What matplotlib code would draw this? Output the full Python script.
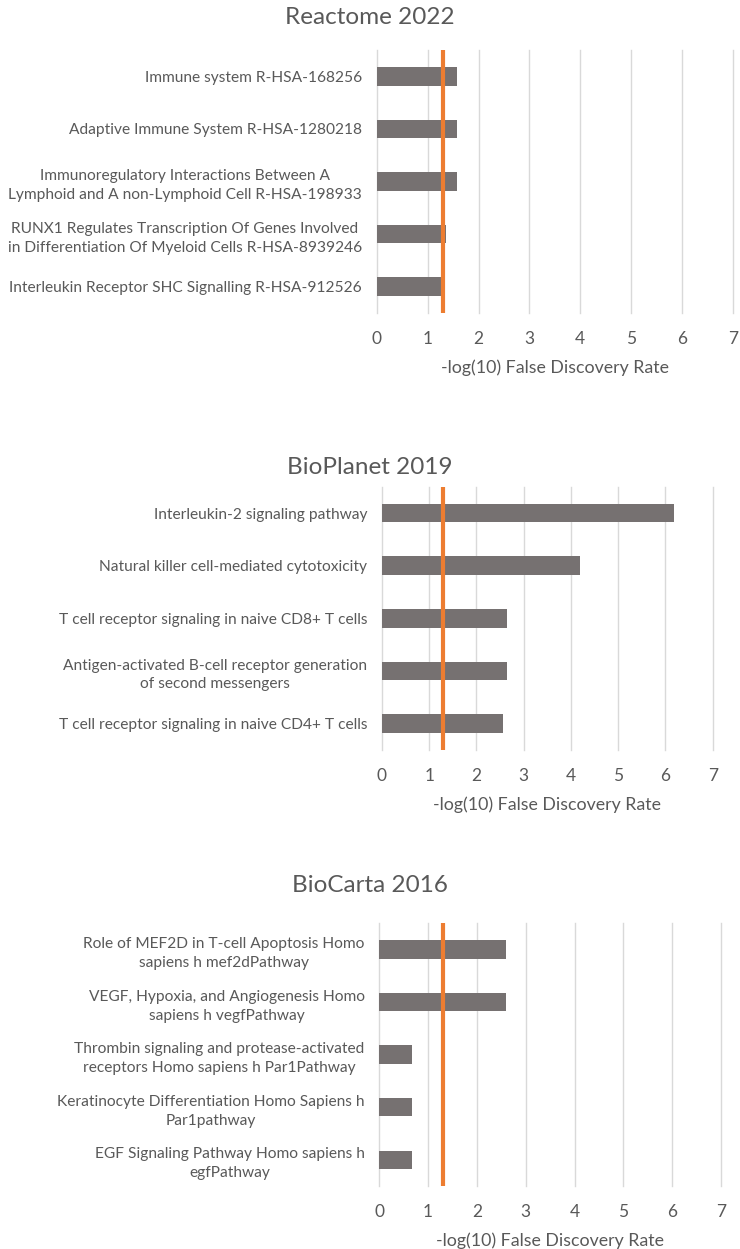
import numpy as np
import matplotlib
matplotlib.use("Agg")
import matplotlib.pyplot as plt

plt.rcParams['font.family'] = ['Lato', 'DejaVu Sans']

# data
reactome_terms = [
    "Immune system R-HSA-168256",
    "Adaptive Immune System R-HSA-1280218",
    "Immunoregulatory Interactions Between A\nLymphoid and A non-Lymphoid Cell R-HSA-198933",
    "RUNX1 Regulates Transcription Of Genes Involved\nin Differentiation Of Myeloid Cells R-HSA-8939246",
    "Interleukin Receptor SHC Signalling R-HSA-912526",
]
reactome_vals = [1.57, 1.57, 1.57, 1.36, 1.27]

bioplanet_terms = [
    "Interleukin-2 signaling pathway",
    "Natural killer cell-mediated cytotoxicity",
    "T cell receptor signaling in naive CD8+ T cells",
    "Antigen-activated B-cell receptor generation\nof second messengers",
    "T cell receptor signaling in naive CD4+ T cells",
]
bioplanet_vals = [6.19, 4.19, 2.65, 2.65, 2.56]

biocarta_terms = [
    "Role of MEF2D in T-cell Apoptosis Homo\nsapiens h mef2dPathway",
    "VEGF, Hypoxia, and Angiogenesis Homo\nsapiens h vegfPathway",
    "Thrombin signaling and protease-activated\nreceptors Homo sapiens h Par1Pathway",
    "Keratinocyte Differentiation Homo Sapiens h\nPar1pathway",
    "EGF Signaling Pathway Homo sapiens h\negfPathway",
]
biocarta_vals = [2.60, 2.60, 0.66, 0.66, 0.66]

titles = ["Reactome 2022", "BioPlanet 2019", "BioCarta 2016"]
threshold = 1.3  # -log10(0.05)
xticks = list(range(0, 8))

W, H = 740, 1249
bar_c = "#767171"
line_c = "#ED7D31"
grid_c = "#D9D9D9"
txt_c = "#595959"

fig = plt.figure(figsize=(W / 100, H / 100), dpi=100)

# pixel boxes: left, right, top, bottom ; title y
boxes = [
    (376.7, 733.0, 50.0, 313.0, 18),
    (382.0, 712.7, 486.7, 750.0, 468),
    (379.3, 721.0, 923.3, 1186.0, 885),
]
panels = [
    (reactome_terms, reactome_vals),
    (bioplanet_terms, bioplanet_vals),
    (biocarta_terms, biocarta_vals),
]

for (terms, vals), (l, r, t, b, ty), title in zip(panels, boxes, titles):
    ax = fig.add_axes([l / W, 1 - b / H, (r - l) / W, (b - t) / H])
    y = np.arange(len(terms))
    ax.barh(y, vals, height=0.35, color=bar_c, zorder=2)
    ax.axvline(threshold, color=line_c, lw=3, zorder=3)
    ax.set_xlim(0, 7)
    ax.set_ylim(len(terms) - 0.5, -0.5)
    ax.set_xticks(xticks)
    for xv in xticks:
        ax.axvline(xv, color=grid_c, lw=1, zorder=1, clip_on=False)
    ax.set_yticks(y)
    ax.set_yticklabels(terms, multialignment='center', linespacing=1.45)
    for s in ax.spines.values():
        s.set_visible(False)
    ax.tick_params(axis='both', length=0, colors=txt_c)
    ax.tick_params(axis='y', labelsize=11.2, pad=10.5)
    ax.tick_params(axis='x', labelsize=12.5, pad=13)
    ax.set_xlabel("-log(10) False Discovery Rate", fontsize=12.8, color=txt_c, labelpad=9)
    fig.text(0.5, 1 - ty / H, title, ha='center', va='center', fontsize=17.5, color=txt_c)

fig.savefig("out.png", dpi=100)
